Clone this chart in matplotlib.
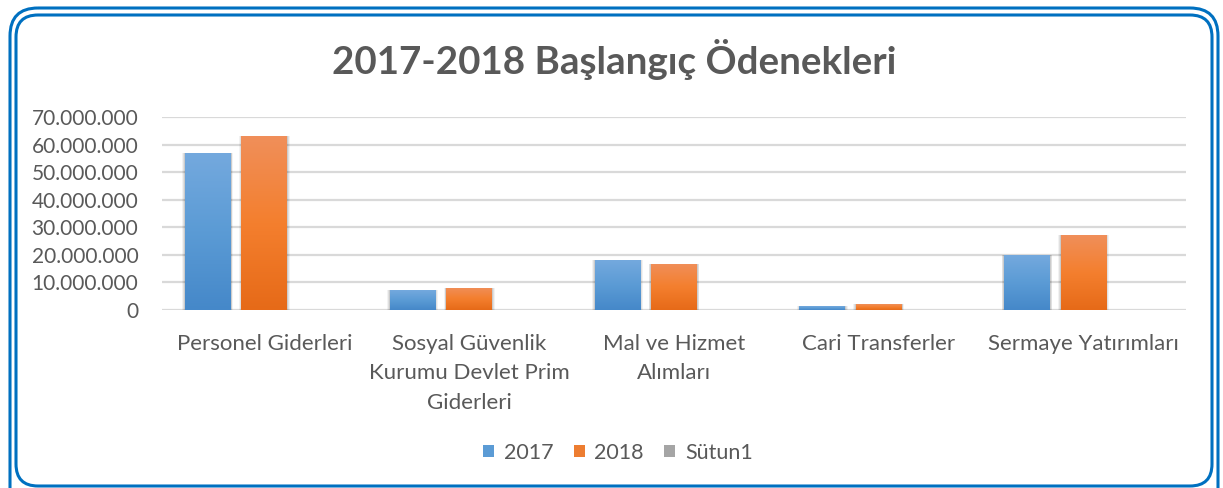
import numpy as np
import matplotlib
matplotlib.use("Agg")
import matplotlib.pyplot as plt
from matplotlib.patches import FancyBboxPatch, Rectangle, Patch
from matplotlib.colors import LinearSegmentedColormap
from matplotlib.ticker import FuncFormatter

# =========================
# Data
# =========================
categories = ["Personel Giderleri",
              "Sosyal Güvenlik\nKurumu Devlet Prim\nGiderleri",
              "Mal ve Hizmet\nAlımları",
              "Cari Transferler",
              "Sermaye Yatırımları"]
v2017 = [56_900_000, 7_200_000, 18_100_000, 1_400_000, 19_900_000]
v2018 = [63_000_000, 8_000_000, 16_700_000, 2_100_000, 27_200_000]
v_sutun1 = [0, 0, 0, 0, 0]
series_names = ["2017", "2018", "Sütun1"]
y_ticks = np.arange(0, 70_000_001, 10_000_000)

# =========================
# Style
# =========================
plt.rcParams["font.family"] = ["Lato", "DejaVu Sans"]
text_color = "#595959"
grid_color = "#d9d9d9"
frame_color = "#0070c0"
grad_blue = ["#74a9de", "#5b9bd5", "#4588c9"]
grad_orange = ["#f08f5a", "#f47f2e", "#e66a18"]
solid_colors = ["#5b9bd5", "#ed7d31", "#a5a5a5"]

W, H = 1223, 488
fig = plt.figure(figsize=(W / 100, H / 100), dpi=100)

# frame (pixel coords)
bg = fig.add_axes([0, 0, 1, 1])
bg.set_xlim(0, W)
bg.set_ylim(H, 0)
bg.axis("off")
bg.add_patch(FancyBboxPatch((10, 8), 1208, 560, boxstyle="round,pad=0,rounding_size=28",
                            fill=False, ec=frame_color, lw=2.2, clip_on=True))
bg.add_patch(FancyBboxPatch((16, 15), 1196, 471, boxstyle="round,pad=0,rounding_size=22",
                            fill=False, ec=frame_color, lw=2.2))

# plot area
ax = fig.add_axes([162 / W, (H - 310) / H, (1186 - 162) / W, 193 / H])

x = np.arange(len(categories))
slot = 0.276
bar_w = 0.224
offsets = [-slot, 0, slot]

cmaps = [LinearSegmentedColormap.from_list("b", grad_blue[::-1]),
         LinearSegmentedColormap.from_list("o", grad_orange[::-1])]
grad = np.linspace(0, 1, 256).reshape(-1, 1)

for vals, off, cmap in zip([v2017, v2018], offsets[:2], cmaps):
    for xi, v in zip(x, vals):
        left = xi + off - bar_w / 2
        # soft shadow
        for k, a in zip([0.012, 0.008, 0.004], [0.05, 0.07, 0.09]):
            ax.add_patch(Rectangle((left - k, -k * 2e6), bar_w + 2 * k, v + k * 2e6,
                                   fc="#000000", ec="none", alpha=a, zorder=1.5,
                                   clip_on=False))
        rect = Rectangle((left, 0), bar_w, v, fc="none", ec="none", zorder=2)
        ax.add_patch(rect)
        im = ax.imshow(grad, cmap=cmap, aspect="auto", origin="lower",
                       extent=(left, left + bar_w, 0, v), zorder=2)
        im.set_clip_path(rect)

ax.set_xlim(-0.5, len(categories) - 0.5)
ax.set_ylim(0, 70_000_000)

# axes / grid
ax.set_yticks(y_ticks)
ax.yaxis.set_major_formatter(FuncFormatter(lambda v, p: f"{int(v):,}".replace(",", ".")))
ax.grid(True, axis="y", color=grid_color, lw=1.6, zorder=0)
ax.set_axisbelow(True)
for s in ax.spines.values():
    s.set_visible(False)
ax.tick_params(axis="y", length=0, pad=17, labelsize=15, labelcolor=text_color)
ax.set_xticks(x)
ax.set_xticklabels(categories, fontsize=16, color=text_color, linespacing=1.6, va="top")
ax.tick_params(axis="x", length=0, pad=17)

# title
fig.text(614 / W, 1 - 60 / H, "2017-2018 Başlangıç Ödenekleri", ha="center", va="center",
         fontsize=27.7, fontweight="bold", color=text_color)

# legend
handles = [Patch(fc=c, ec="none") for c in solid_colors]
fig.legend(handles, series_names, loc="center", bbox_to_anchor=(618 / W, 1 - 453 / H),
           ncol=3, frameon=False, fontsize=15.5, labelcolor=text_color,
           handlelength=0.5, handleheight=0.5, handletextpad=0.45, columnspacing=0.95)

fig.savefig("out.png", dpi=100)
